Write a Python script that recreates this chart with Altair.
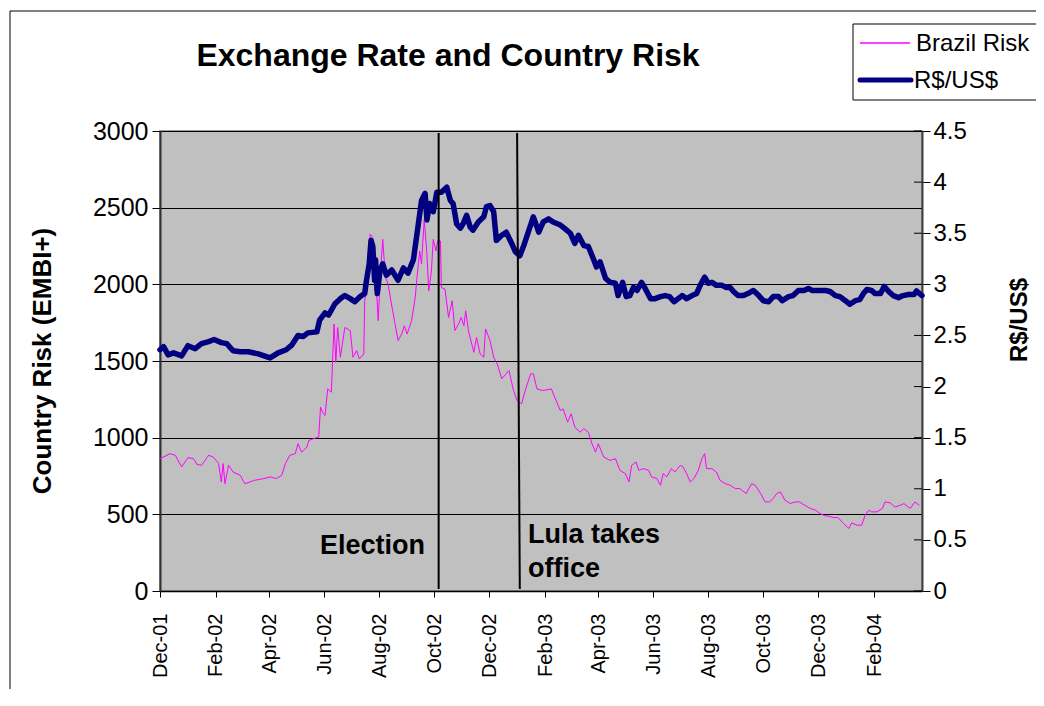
import altair as alt
import pandas as pd

# ---------------- data ----------------
start_date = "2001-12-01"

fx_days = [0, 4, 9, 15, 24, 31, 39, 46, 54, 60, 68, 74, 81, 89, 98, 109, 122, 131,
           140, 146, 153, 159, 164, 174, 177, 183, 187, 194, 200, 205, 211, 216, 222, 227,
           229, 232, 234, 236, 238, 239, 241, 244, 247, 251, 257, 264, 270, 275, 281,
           286, 290, 294, 296, 299, 303, 307, 312, 318, 322, 325, 329, 333, 336, 340, 344,
           347, 353, 359, 362, 366, 370, 373, 379, 384, 390, 394, 399, 403, 408, 414, 420, 425,
           431, 436, 444, 449, 455, 460, 464, 470, 475, 481, 484, 488, 494, 499, 505, 508,
           513, 517, 521, 525, 529, 534, 538, 544, 549, 555, 560, 565, 570,
           579, 584, 590, 595, 599, 604, 608, 612, 617, 623, 628, 632, 636, 641, 647, 652,
           658, 664, 669, 675, 680, 686, 690, 697, 702, 708, 714, 719,
           723, 730, 738, 743, 749, 754, 760, 765, 771, 776, 780, 784, 789, 793, 799, 803,
           808, 813, 819, 824, 830, 836, 839, 845]
fx_values = [2.36, 2.39, 2.31, 2.33, 2.30, 2.40, 2.37, 2.42, 2.44, 2.46, 2.43, 2.42, 2.35, 2.34, 2.34, 2.32, 2.28, 2.33,
             2.36, 2.405, 2.50, 2.49, 2.525, 2.535, 2.65, 2.72, 2.70, 2.81, 2.86, 2.89, 2.86, 2.83, 2.88, 2.91,
             3.04, 3.20, 3.43, 3.37, 3.04, 3.24, 2.91, 3.14, 3.20, 3.09, 3.14, 3.04, 3.16, 3.11, 3.24,
             3.56, 3.82, 3.89, 3.63, 3.79, 3.71, 3.90, 3.90, 3.95, 3.82, 3.79, 3.59, 3.55, 3.59, 3.675, 3.56,
             3.53, 3.61, 3.66, 3.76, 3.77, 3.71, 3.43, 3.48, 3.51, 3.40, 3.32, 3.28, 3.37, 3.50, 3.66, 3.51, 3.61,
             3.64, 3.61, 3.58, 3.545, 3.50, 3.40, 3.48, 3.38, 3.37, 3.24, 3.17, 3.22, 3.06, 3.02, 3.01, 2.89,
             3.02, 2.88, 2.89, 2.97, 2.94, 3.02, 2.96, 2.86, 2.86, 2.88, 2.89, 2.88, 2.83,
             2.89, 2.86, 2.89, 2.91, 2.99, 3.07, 3.01, 3.02, 2.99, 2.99, 2.97, 2.97, 2.93, 2.89, 2.89, 2.91,
             2.94, 2.89, 2.84, 2.83, 2.88, 2.88, 2.84, 2.88, 2.89, 2.94, 2.94, 2.96,
             2.94, 2.94, 2.94, 2.93, 2.89, 2.88, 2.84, 2.805, 2.84, 2.85, 2.91, 2.95, 2.94, 2.91, 2.91, 2.98,
             2.93, 2.89, 2.87, 2.89, 2.90, 2.90, 2.935, 2.89]

risk_days = [0, 4, 11, 17, 24, 31, 37, 41, 46, 54, 59, 65, 68, 70, 72, 76, 81, 89, 94, 105, 115, 122, 129, 135, 139,
             144, 150, 153, 157, 163, 165, 170, 176, 178, 181, 183, 186, 190, 193, 195, 197, 200, 205, 211, 214,
             218, 221, 226, 227, 231, 233, 236, 238, 239, 242, 244, 247, 250, 253, 256, 260, 264, 268, 271, 274, 279,
             283, 285, 288, 290, 293, 296, 298, 301, 303, 306, 308, 311, 312, 316, 320, 324, 327, 331, 334, 337,
             339, 342, 348, 351, 355, 359, 361, 366, 370, 374, 379, 387, 392, 396, 401, 405, 411, 414, 418, 424, 429,
             434, 440, 444, 447, 452, 456, 460, 466, 470, 475, 479, 483, 486, 492, 499, 505, 510, 516, 520, 523,
             528, 531, 536, 542, 545, 551, 555, 558, 562, 567, 571,
             577, 580, 584, 588, 592, 597, 601, 604, 606, 612, 617, 621, 627, 632, 638, 643, 650, 656, 660, 666,
             671, 676, 680, 684, 688, 693, 699, 704, 709,
             715, 721, 727, 732, 736, 741, 747, 752, 758, 764, 767, 773, 778, 782, 786, 789, 795, 801, 804, 810,
             815, 821, 825, 832, 837, 842]
risk_values = [863, 874, 896, 885, 809, 870, 863, 826, 820, 885, 874, 831, 711, 831, 700, 820, 776, 755, 700, 722, 733, 744, 733, 755, 831,
               885, 896, 961, 906, 939, 982, 993, 1004, 1199, 1156, 1145, 1318, 1296, 1741, 1492, 1719, 1524, 1719, 1698, 1524,
               1568, 1514, 1546, 1893, 2023, 2327, 2305, 1958, 2067, 1763, 2023, 2294, 2045, 2002, 1893, 1763, 1633, 1676, 1730, 1676, 1763,
               1914, 2045, 2218, 2132, 2424, 2197, 1958, 2088, 2294, 2218, 2283, 2283, 1979, 1969, 1784, 1893, 1698, 1741, 1784, 1730,
               1828, 1698, 1557, 1654, 1546, 1524, 1709, 1633, 1524, 1481, 1384, 1438, 1308, 1242, 1221, 1308, 1416, 1416, 1318, 1308, 1312,
               1318, 1231, 1177, 1188, 1101, 1156, 1069, 1036, 1058, 1036, 961, 906, 961, 874, 852, 863, 787, 766, 711, 820,
               841, 787, 798, 787, 744, 733, 690, 766, 744, 798, 776,
               820, 809, 766, 711, 733, 787, 863, 896, 798, 798, 776, 722, 700, 690, 668, 668, 636, 700, 690, 636,
               581, 581, 603, 636, 646, 592, 570, 581, 581,
               559, 538, 527, 505, 494, 488, 479, 479, 440, 408, 444, 429, 429, 494, 527, 516, 516, 538, 581, 574,
               548, 559, 570, 538, 581, 559]

event_labels = ["Election", "Lula takes office"]
event_start = ["2002-10-06", "2003-01-01"]
event_end = ["2002-10-06", "2003-01-04"]

x_tick_dates = ["2001-12-01", "2002-02-01", "2002-04-01", "2002-06-01", "2002-08-01",
                "2002-10-01", "2002-12-01", "2003-02-01", "2003-04-01", "2003-06-01",
                "2003-08-01", "2003-10-01", "2003-12-01", "2004-02-01"]
x_domain = ["2001-12-01", "2004-03-25"]
left_ticks = [0, 500, 1000, 1500, 2000, 2500, 3000]
right_ticks = [0, 0.5, 1, 1.5, 2, 2.5, 3, 3.5, 4, 4.5]

title_text = "Exchange Rate and Country Risk"
left_title = "Country Risk (EMBI+)"
right_title = "R$/US$"
legend_names = ["Brazil Risk", "R$/US$"]

# ---------------- tables ----------------
base = pd.Timestamp(start_date)
fx_df = pd.DataFrame({"date": base + pd.to_timedelta(fx_days, unit="D"), "fx": fx_values})
risk_df = pd.DataFrame({"date": base + pd.to_timedelta(risk_days, unit="D"), "risk": risk_values})
ev_df = pd.DataFrame({"label": event_labels,
                      "d1": pd.to_datetime(event_start), "d2": pd.to_datetime(event_end)})
rt_df = pd.DataFrame({"v": right_ticks})


def dt(s):
    t = pd.Timestamp(s)
    return alt.DateTime(year=t.year, month=t.month, date=t.day)


FONT = "Liberation Sans"
W, H = 762, 460

x_scale = alt.Scale(domain=[dt(d) for d in x_domain], nice=False)
x_axis = alt.Axis(values=[dt(d) for d in x_tick_dates], format="%b-%y", labelAngle=270,
                  labelFontSize=20, labelColor="black", tickColor="black", tickSize=6,
                  labelPadding=16, domainColor="black", domainWidth=1.5, grid=False, title=None,
                  labelFont=FONT, labelOverlap=False)

risk = alt.Chart(risk_df).mark_line(color="#FF00FF", strokeWidth=1).encode(
    x=alt.X("date:T", scale=x_scale, axis=x_axis),
    y=alt.Y("risk:Q", scale=alt.Scale(domain=[0, 3000], nice=False, zero=True),
            axis=alt.Axis(orient="left", values=left_ticks, format="d", title=None, grid=True,
                          gridColor="black", gridWidth=1, gridOpacity=1,
                          labelFontSize=25, labelColor="black", labelFont=FONT,
                          tickColor="black", tickSize=8, labelPadding=4,
                          domainColor="#303030", domainWidth=2)),
)

fx = alt.Chart(fx_df).mark_line(color="#000080", strokeWidth=5.5, strokeJoin="round",
                                strokeCap="round").encode(
    x=alt.X("date:T", scale=x_scale),
    y=alt.Y("fx:Q", scale=alt.Scale(domain=[0, 4.5], nice=False, zero=True),
            axis=alt.Axis(orient="right", values=right_ticks, format="~g", title=None,
                          grid=False, labelFontSize=24, labelColor="black", labelFont=FONT,
                          tickColor="black", tickSize=8, labelPadding=3,
                          domainColor="#404040", domainWidth=2)),
)

# inner half of the right axis' crossing tick marks
right_inner = alt.Chart(rt_df).mark_rule(color="black", strokeWidth=1).encode(
    y=alt.Y("v:Q", scale=alt.Scale(domain=[0, 4.5], nice=False), axis=None),
    x=alt.value(W - 8), x2=alt.value(W),
)

events = alt.Chart(ev_df).mark_rule(color="black", strokeWidth=2).encode(
    x=alt.X("d1:T", scale=x_scale),
    x2="d2:T",
    y=alt.value(2),
    y2=alt.value(458),
)

one = pd.DataFrame({"k": [0]})


def label(text, x, y, size, weight="normal", align="left", angle=0, baseline="alphabetic"):
    kw = dict(fontSize=size, fontWeight=weight, align=align, font=FONT, color="black",
              baseline=baseline)
    if angle:
        kw["angle"] = angle
    return alt.Chart(pd.DataFrame({"t": [text]})).mark_text(**kw).encode(
        x=alt.value(x), y=alt.value(y), text="t:N")


ann_election = label(event_labels[0], 160, 423, 27, "bold")
ann_lula1 = label("Lula takes", 368, 412, 27, "bold")
ann_lula2 = label("office", 368, 446, 27, "bold")

title = label(title_text, 288, -65, 32, "bold", align="center")
ytitle_l = label(left_title, -117, 230, 26, "bold", align="center", angle=270, baseline="middle")
ytitle_r = label(right_title, 860, 189, 24, "bold", align="center", angle=270, baseline="middle")

legend_box = alt.Chart(one).mark_rect(fill="white", stroke="black", strokeWidth=1).encode(
    x=alt.value(693), x2=alt.value(881), y=alt.value(-107), y2=alt.value(-31))
legend_l1 = alt.Chart(one).mark_rule(color="#FF00FF", strokeWidth=1.5).encode(
    x=alt.value(700), x2=alt.value(750), y=alt.value(-88))
legend_l2 = alt.Chart(one).mark_rule(color="#000080", strokeWidth=5, strokeCap="round").encode(
    x=alt.value(700), x2=alt.value(751), y=alt.value(-51))
legend_t1 = label(legend_names[0], 756, -80, 24)
legend_t2 = label(legend_names[1], 754, -43, 24)

border_top = alt.Chart(one).mark_rule(color="black", strokeWidth=1).encode(
    x=alt.value(-150), x2=alt.value(900), y=alt.value(-120))
border_left = alt.Chart(one).mark_rule(color="black", strokeWidth=1).encode(
    x=alt.value(-150), y=alt.value(-120), y2=alt.value(600))

chart = alt.layer(
    risk, fx, right_inner, events, ann_election, ann_lula1, ann_lula2, title, ytitle_l, ytitle_r,
    border_top, border_left, legend_box, legend_l1, legend_l2, legend_t1, legend_t2,
).resolve_scale(y="independent").properties(
    width=W, height=H,
    autosize=alt.AutoSizeParams(type="none"),
    padding={"left": 152, "top": 123, "right": 114, "bottom": 98},
    background="white",
).configure_view(fill="#C0C0C0", stroke="#808080", strokeWidth=1.5)

chart.save("out.html", embed_options={"renderer": "svg", "actions": False})
